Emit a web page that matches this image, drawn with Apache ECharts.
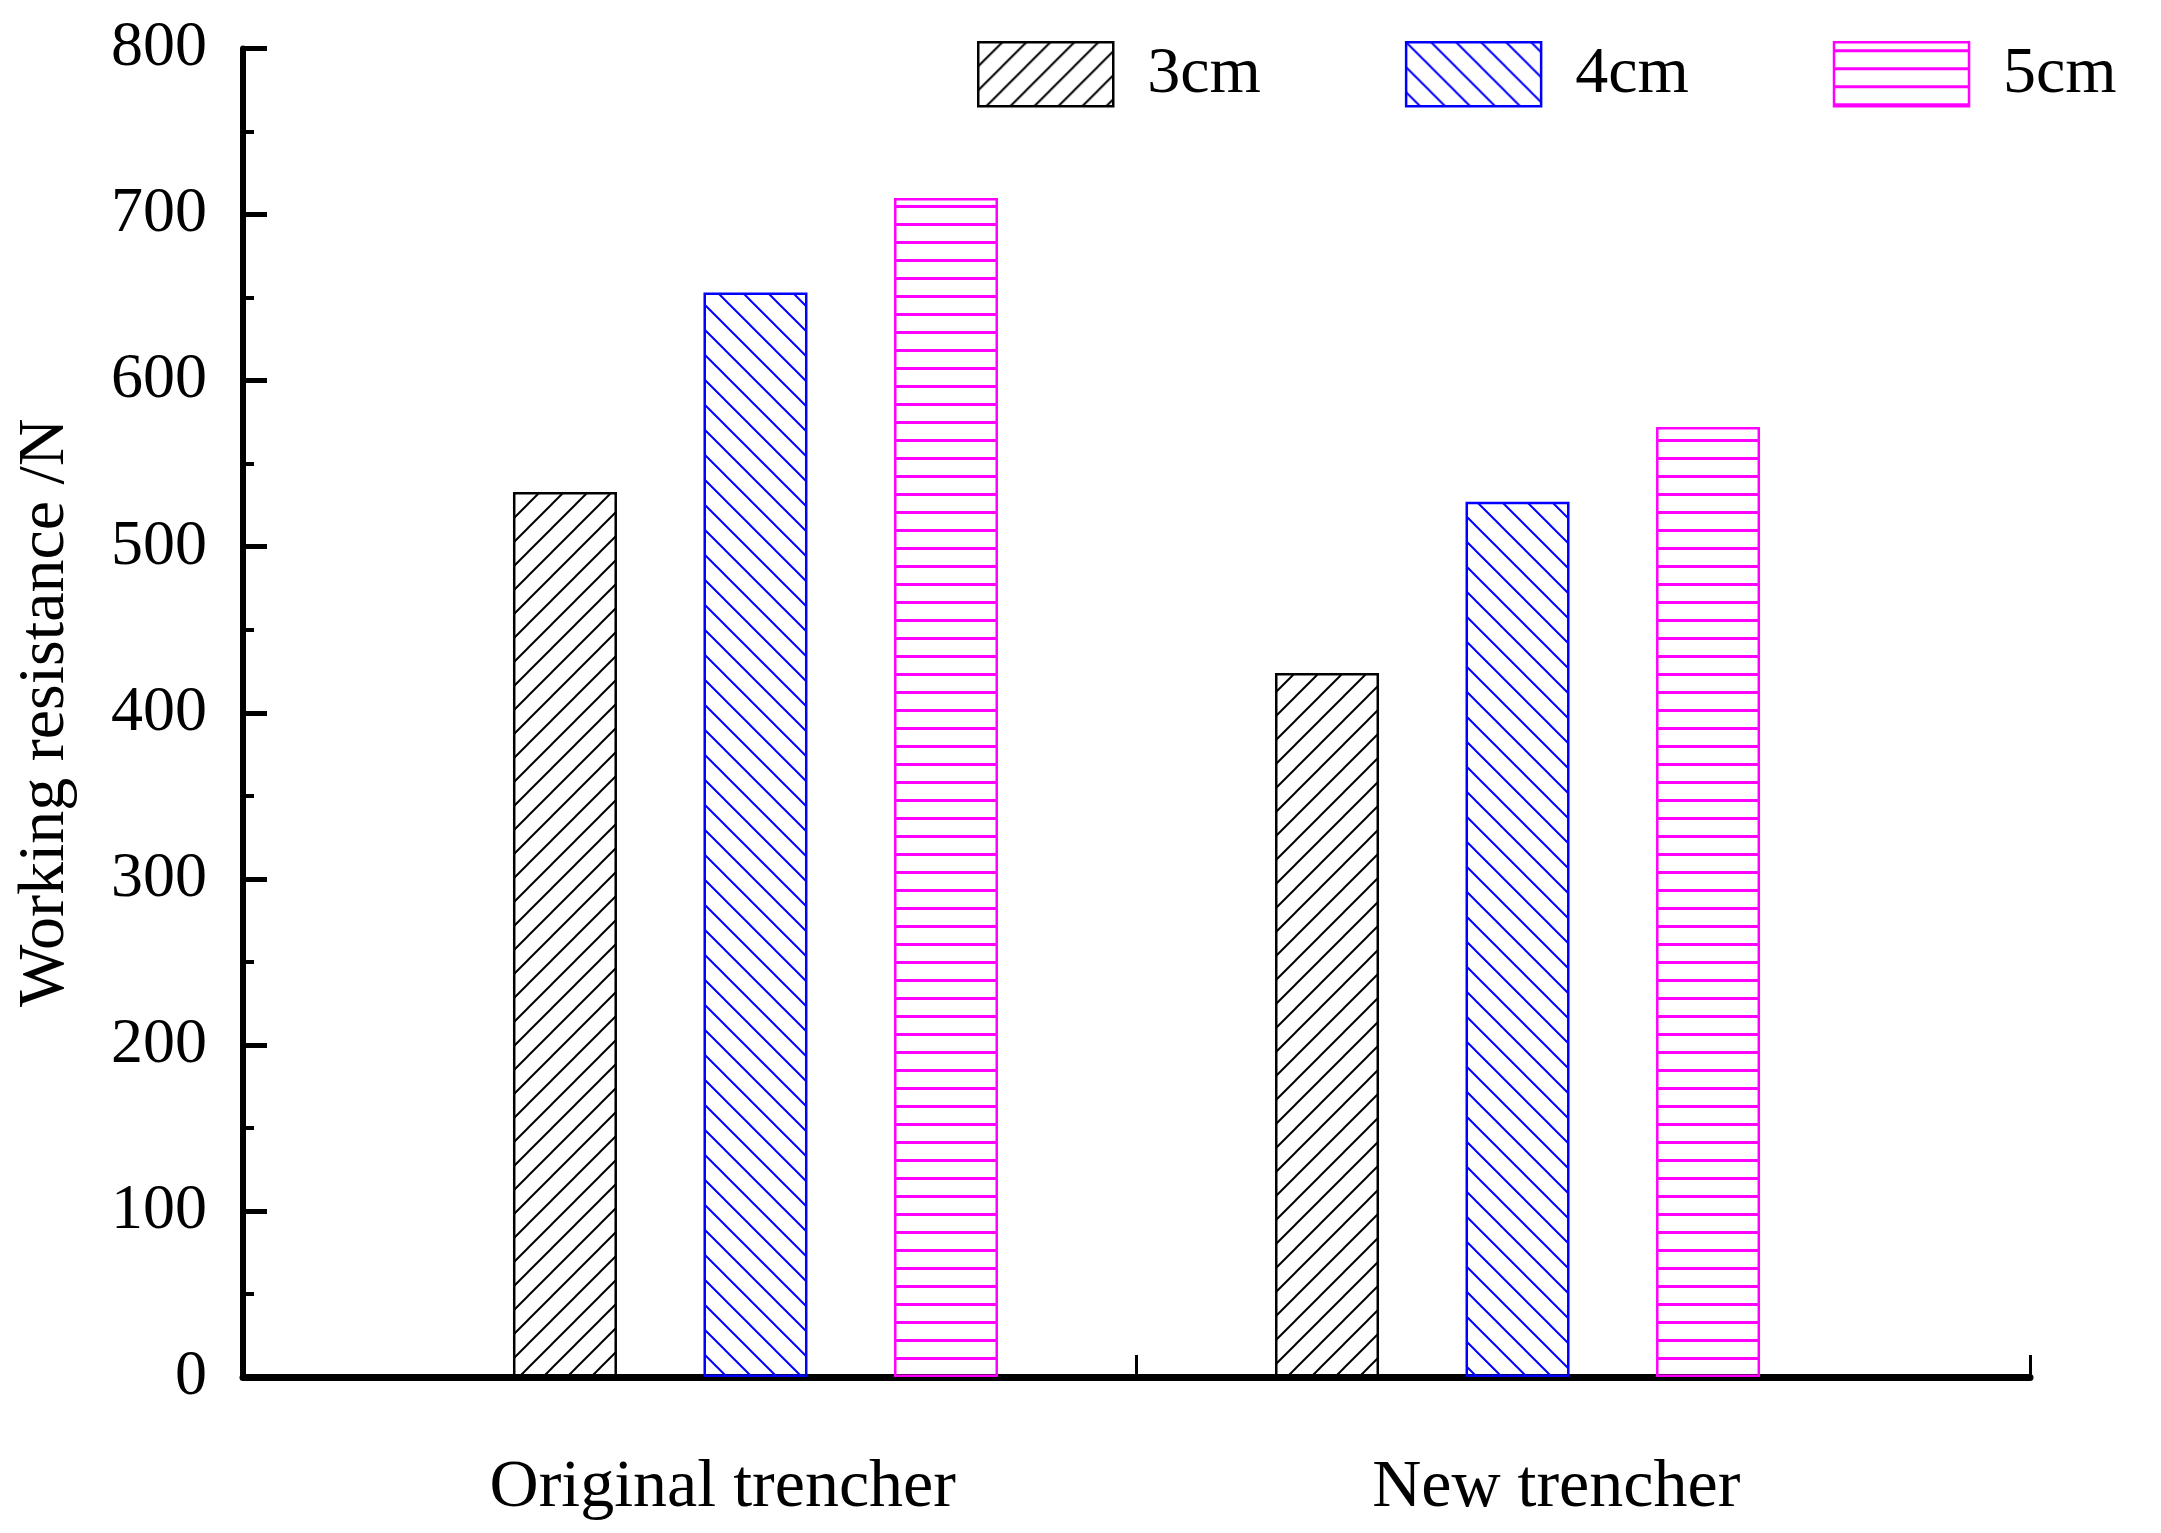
<!DOCTYPE html>
<html>
<head>
<meta charset="utf-8">
<script src="https://cdn.jsdelivr.net/npm/echarts@6/dist/echarts.min.js"></script>
<style>
html,body{margin:0;padding:0;background:#fff;}
#chart{width:2161px;height:1533px;}
</style>
</head>
<body>
<div id="chart"></div>
<script>
// ---- data ----
const categories = ['Original trencher', 'New trencher'];
const seriesNames = ['3cm', '4cm', '5cm'];
const values3cm = [533, 424];
const values4cm = [653, 527];
const values5cm = [710, 572];
const yMin = 0, yMax = 800, yInterval = 100;

// ---- patterns ----
function hatch(kind, color) {
  const c = document.createElement('canvas');
  const ctx = c.getContext('2d');
  if (kind === 'h') {
    c.width = 8; c.height = 18;
    ctx.fillStyle = color;
    ctx.fillRect(0, 7, 8, 3);
    return c;
  }
  const s = kind === 'f' ? 24 : 25;
  c.width = s; c.height = s;
  ctx.strokeStyle = color;
  ctx.lineWidth = 2;
  ctx.beginPath();
  if (kind === 'f') { // "/"
    ctx.moveTo(-2, s + 2); ctx.lineTo(s + 2, -2);
    ctx.moveTo(-2, 2); ctx.lineTo(2, -2);
    ctx.moveTo(s - 2, s + 2); ctx.lineTo(s + 2, s - 2);
  } else { // "\"
    ctx.moveTo(-2, -2); ctx.lineTo(s + 2, s + 2);
    ctx.moveTo(s - 2, -2); ctx.lineTo(s + 2, 2);
    ctx.moveTo(-2, s - 2); ctx.lineTo(2, s + 2);
  }
  ctx.stroke();
  return c;
}
const styles = [
  { kind: 'f', color: '#000000' },
  { kind: 'b', color: '#0000ff' },
  { kind: 'h', color: '#ff00ff' }
];
const allValues = [values3cm, values4cm, values5cm];
const FONT = '"Liberation Serif", "Times New Roman", serif';

const series = seriesNames.map((name, s) => ({
  name: name,
  type: 'bar',
  xAxisIndex: 1,
  barWidth: 104,
  barGap: '-100%',
  itemStyle: {
    color: { image: hatch(styles[s].kind, styles[s].color), repeat: 'repeat' },
    borderColor: styles[s].color,
    borderWidth: 2.5
  },
  data: allValues[s].map((v, c) => [c * 4 + s + 1, v])
}));

const chart = echarts.init(document.getElementById('chart'), null, { renderer: 'canvas' });
chart.setOption({
  animation: false,
  backgroundColor: '#ffffff',
  grid: { left: 243, right: 131, top: 48.5, bottom: 156, containLabel: false },
  legend: {
    data: seriesNames,
    left: 972,
    top: 36,
    icon: 'rect',
    itemWidth: 135,
    itemHeight: 64,
    itemGap: 144,
    itemStyle: { borderWidth: 2.5 },
    textStyle: { fontFamily: FONT, fontSize: 66, color: '#000', padding: [0, 0, 0, 29] }
  },
  xAxis: [
    {
      type: 'category',
      data: categories,
      boundaryGap: true,
      axisLine: { show: true, onZero: false, lineStyle: { color: '#000', width: 7 } },
      axisTick: { show: true, inside: true, length: 22, lineStyle: { color: '#000', width: 3 } },
      axisLabel: {
        margin: 77,
        fontFamily: FONT, fontSize: 68, color: '#000',
        formatter: (v, i) => i === 0 ? '{a|' + v + '}' : '{b|' + v + '}',
        rich: {
          a: { fontFamily: FONT, fontSize: 68, color: '#000', padding: [0, 0, 0, 66] },
          b: { fontFamily: FONT, fontSize: 68, color: '#000', padding: [0, 54, 0, 0] }
        }
      },
      splitLine: { show: false }
    },
    {
      type: 'value',
      show: false,
      min: -0.69,
      max: 8.69,
      splitLine: { show: false }
    }
  ],
  yAxis: {
    type: 'value',
    min: yMin, max: yMax, interval: yInterval,
    name: 'Working resistance /N',
    nameLocation: 'middle',
    nameGap: 164,
    nameTextStyle: { fontFamily: FONT, fontSize: 66, color: '#000' },
    axisLine: { show: true, onZero: false, lineStyle: { color: '#000', width: 6 } },
    axisTick: { show: true, inside: true, length: 24, lineStyle: { color: '#000', width: 5 } },
    minorTick: { show: true, splitNumber: 2, length: 11, lineStyle: { color: '#000', width: 4 } },
    axisLabel: { margin: 36, fontFamily: FONT, fontSize: 64, color: '#000' },
    splitLine: { show: false }
  },
  series: series
});
</script>
</body>
</html>
